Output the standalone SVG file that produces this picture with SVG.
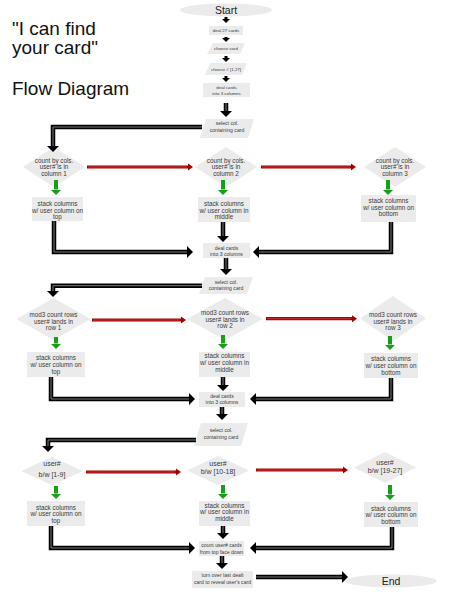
<svg xmlns="http://www.w3.org/2000/svg" width="450" height="600" viewBox="0 0 450 600">
<style>
text{font-family:"Liberation Sans",Arial,sans-serif;fill:#3a3a3a;text-anchor:middle}
.title{font-size:19px;fill:#111;text-anchor:start}
.big{font-size:10.5px;fill:#222}
.xs{font-size:4.4px}
.sm{font-size:5.1px}
.md{font-size:6.3px}
.lg{font-size:7px}
.shape{fill:#ebebeb;stroke:none}
.blk{fill:none;stroke:#000;stroke-width:4.5;marker-end:url(#ah)}
.blkin{fill:none;stroke:#8a8a8a;stroke-width:0.9}
.tiny{fill:none;stroke:#000;stroke-width:3;marker-end:url(#ahs)}
.red{fill:none;stroke:#a50000;stroke-width:3.2;marker-end:url(#ahr)}
.redin{fill:none;stroke:#d04040;stroke-width:0.8}
.grn{fill:none;stroke:#16a016;stroke-width:4;marker-end:url(#ahg)}
</style>
<defs>
<marker id="ah" markerUnits="userSpaceOnUse" markerWidth="8" markerHeight="14" refX="0" refY="7" orient="auto"><path d="M0,1 L6,7 L0,13 z" fill="#000"/></marker>
<marker id="ahs" markerUnits="userSpaceOnUse" markerWidth="6" markerHeight="10" refX="0" refY="5" orient="auto"><path d="M0,1 L4,5 L0,9 z" fill="#000"/></marker>
<marker id="ahr" markerUnits="userSpaceOnUse" markerWidth="7" markerHeight="10" refX="0" refY="5" orient="auto"><path d="M0,1.5 L5,5 L0,8.5 z" fill="#a50000"/></marker>
<marker id="ahg" markerUnits="userSpaceOnUse" markerWidth="7" markerHeight="13" refX="0" refY="6.5" orient="auto"><path d="M0,1 L5.5,6.5 L0,12 z" fill="#16a016"/></marker>
</defs>
<rect width="450" height="600" fill="#fff"/>

<g id="title">
<text class="title" x="12" y="35">"I can find</text>
<text class="title" x="12" y="54">your card"</text>
<text class="title" x="12" y="95">Flow Diagram</text>
</g>

<g id="start"><ellipse class="shape" cx="226" cy="10" rx="46" ry="6.5"/><text class="big" x="226" y="14">Start</text></g>
<g id="deal27"><rect class="shape" x="209" y="26" width="34" height="9"/><text class="xs" x="226" y="32">deal 27 cards</text></g>
<g id="choosecard"><polygon class="shape" points="213,43 245,43 240,54 207,54"/><text class="xs" x="226" y="50">choose card</text></g>
<g id="choosenum"><polygon class="shape" points="210,63 247,63 242,75 205,75"/><text class="xs" x="226" y="70.5">choose # [1,27]</text></g>
<g id="deal1"><rect class="shape" x="203" y="83" width="47" height="14"/><text class="xs" x="226.5" y="89">deal cards</text><text class="xs" x="226.5" y="94.5">into 3 columns</text></g>
<g id="select1"><polygon class="shape" points="206,119 254,119 248,138 200,138"/><text class="sm" x="227" y="125">select col.</text><text class="sm" x="227" y="132">containing card</text></g>

<g id="d11"><polygon class="shape" points="54,147 85,167 54,187 23,167"/><text class="md" x="54" y="162.7">count by cols.</text><text class="md" x="54" y="169">user# is in</text><text class="md" x="54" y="175.5">column 1</text></g>
<g id="d12"><polygon class="shape" points="226,147 257,167 226,187 195,167"/><text class="md" x="226" y="162.7">count by cols.</text><text class="md" x="226" y="169">user# is in</text><text class="md" x="226" y="175.5">column 2</text></g>
<g id="d13"><polygon class="shape" points="395,147 426,167 395,187 364,167"/><text class="md" x="395" y="162.7">count by cols.</text><text class="md" x="395" y="169">user# is in</text><text class="md" x="395" y="175.5">column 3</text></g>

<g id="s11"><rect class="shape" x="32" y="197" width="51" height="24"/><text class="md" x="57.5" y="206">stack columns</text><text class="md" x="57.5" y="212.7">w/ user column on</text><text class="md" x="57.5" y="219.3">top</text></g>
<g id="s12"><rect class="shape" x="198" y="197" width="52" height="25"/><text class="md" x="224" y="206">stack columns</text><text class="md" x="224" y="212.7">w/ user column in</text><text class="md" x="224" y="219.3">middle</text></g>
<g id="s13"><rect class="shape" x="361" y="195" width="55" height="27"/><text class="md" x="388.5" y="203">stack columns</text><text class="md" x="388.5" y="209.5">w/ user column on</text><text class="md" x="388.5" y="216">bottom</text></g>

<g id="deal2"><rect class="shape" x="203" y="243" width="47" height="15"/><text class="sm" x="226.5" y="249.5">deal cards</text><text class="sm" x="226.5" y="256">into 3 columns</text></g>
<g id="select2"><polygon class="shape" points="205,277 253,277 247,294 199,294"/><text class="sm" x="226" y="283.5">select col.</text><text class="sm" x="226" y="290">containing card</text></g>

<g id="d21"><polygon class="shape" points="53.5,298 90.5,319 53.5,340 16.5,319"/><text class="md" x="53.5" y="317">mod3 count rows</text><text class="md" x="53.5" y="323.5">user# lands in</text><text class="md" x="53.5" y="330">row 1</text></g>
<g id="d22"><polygon class="shape" points="225,298 263,319 225,340 187,319"/><text class="md" x="225" y="315">mod3 count rows</text><text class="md" x="225" y="321.5">user# lands in</text><text class="md" x="225" y="328">row 2</text></g>
<g id="d23"><polygon class="shape" points="393,296 426,318.5 393,341 360,318.5"/><text class="md" x="393" y="317">mod3 count rows</text><text class="md" x="393" y="323.5">user# lands in</text><text class="md" x="393" y="330">row 3</text></g>

<g id="s21"><rect class="shape" x="27" y="352" width="58" height="25"/><text class="md" x="56" y="360">stack columns</text><text class="md" x="56" y="367">w/ user column on</text><text class="md" x="56" y="373.5">top</text></g>
<g id="s22"><rect class="shape" x="199" y="352" width="51" height="25"/><text class="md" x="224.5" y="358">stack columns</text><text class="md" x="224.5" y="365">w/ user column in</text><text class="md" x="224.5" y="371.5">middle</text></g>
<g id="s23"><rect class="shape" x="364" y="353" width="54" height="25"/><text class="md" x="391" y="361">stack columns</text><text class="md" x="391" y="368">w/ user column on</text><text class="md" x="391" y="374.5">bottom</text></g>

<g id="deal3"><rect class="shape" x="199" y="392" width="46" height="15"/><text class="sm" x="222" y="398">deal cards</text><text class="sm" x="222" y="404">into 3 columns</text></g>
<g id="select3"><polygon class="shape" points="201,423 248,423 241,446 194,446"/><text class="sm" x="221" y="432">select col.</text><text class="sm" x="221" y="438.5">containing card</text></g>

<g id="d31"><polygon class="shape" points="52,457 83,471 52,485 21,471"/><text class="lg" x="52" y="466">user#</text><text class="lg" x="52" y="477">b/w [1-9]</text></g>
<g id="d32"><polygon class="shape" points="218,456 249,470.5 218,485 187,470.5"/><text class="lg" x="218" y="466">user#</text><text class="lg" x="218" y="473.5">b/w [10-18]</text></g>
<g id="d33"><polygon class="shape" points="385,452 416,467.5 385,483 354,467.5"/><text class="lg" x="385" y="465">user#</text><text class="lg" x="385" y="472.5">b/w [19-27]</text></g>

<g id="s31"><rect class="shape" x="27" y="501" width="58" height="25"/><text class="md" x="56" y="509.5">stack columns</text><text class="md" x="56" y="516">w/ user column on</text><text class="md" x="56" y="523">top</text></g>
<g id="s32"><rect class="shape" x="199" y="501" width="51" height="25"/><text class="md" x="224.5" y="507.5">stack columns</text><text class="md" x="224.5" y="514">w/ user column in</text><text class="md" x="224.5" y="521">middle</text></g>
<g id="s33"><rect class="shape" x="364" y="502" width="54" height="25"/><text class="md" x="391" y="510.5">stack columns</text><text class="md" x="391" y="517">w/ user column on</text><text class="md" x="391" y="524">bottom</text></g>

<g id="count"><rect class="shape" x="199" y="541" width="45" height="15"/><text class="sm" x="221.5" y="547">count user# cards</text><text class="sm" x="221.5" y="553.5">from top face down</text></g>
<g id="turn"><rect class="shape" x="192" y="571" width="61" height="17"/><text class="sm" x="222.5" y="577">turn over last dealt</text><text class="sm" x="222.5" y="583.5">card to reveal user's card</text></g>
<g id="end"><ellipse class="shape" cx="391" cy="581" rx="46" ry="6.5"/><text class="big" x="391" y="585">End</text></g>

<g id="connectors">
<path class="tiny" d="M226,17 V19"/>
<path class="tiny" d="M226,37 V38"/>
<path class="tiny" d="M226,56 V58"/>
<path class="tiny" d="M226,76 V78"/>
<path class="blk" d="M226,103 V111"/><path class="blkin" d="M226,103 V111"/>

<path class="blk" d="M202,127 H53 V146"/><path class="blkin" d="M202,127 H53 V146"/>
<path class="red" d="M87,167 H188"/><path class="redin" d="M88,167 H187"/>
<path class="red" d="M261,167 H351"/><path class="redin" d="M262,167 H350"/>
<path class="grn" d="M56,180 V189.5"/>
<path class="grn" d="M223,180 V189.5"/>
<path class="grn" d="M388,180 V189.5"/>
<path class="blk" d="M54,221 V252 H187"/><path class="blkin" d="M54,221 V252 H187"/>
<path class="blk" d="M391,222 V252 H259"/><path class="blkin" d="M391,222 V252 H259"/>
<path class="blk" d="M223,222 V236"/><path class="blkin" d="M223,222 V236"/>
<path class="blk" d="M226,258 V269"/><path class="blkin" d="M226,258 V269"/>

<path class="blk" d="M202,285.7 H53 V291"/><path class="blkin" d="M202,285.7 H53 V291"/>
<path class="red" d="M92,320 H181"/><path class="redin" d="M93,320 H180"/>
<path class="red" d="M266,318.7 H352"/><path class="redin" d="M267,318.7 H351"/>
<path class="grn" d="M56,337 V343.5"/>
<path class="grn" d="M223,335 V343.5"/>
<path class="grn" d="M390,336 V344.5"/>
<path class="blk" d="M51,377 V399 H189"/><path class="blkin" d="M51,377 V399 H189"/>
<path class="blk" d="M391,378 V399 H256"/><path class="blkin" d="M391,378 V399 H256"/>
<path class="blk" d="M223,377 V385"/><path class="blkin" d="M223,377 V385"/>
<path class="blk" d="M222,407 V414"/><path class="blkin" d="M222,407 V414"/>

<path class="blk" d="M196,440 H48 V446"/><path class="blkin" d="M196,440 H48 V446"/>
<path class="red" d="M86,472 H176"/><path class="redin" d="M87,472 H175"/>
<path class="red" d="M256,470 H343"/><path class="redin" d="M257,470 H342"/>
<path class="grn" d="M56,486 V493.5"/>
<path class="grn" d="M223,485 V493.5"/>
<path class="grn" d="M390,485 V494.5"/>
<path class="blk" d="M51,526 V548 H189"/><path class="blkin" d="M51,526 V548 H189"/>
<path class="blk" d="M392,527 V548 H256"/><path class="blkin" d="M392,527 V548 H256"/>
<path class="blk" d="M223,526 V533"/><path class="blkin" d="M223,526 V533"/>
<path class="blk" d="M222,556 V563"/><path class="blkin" d="M222,556 V563"/>
<path class="blk" d="M256,577 H342"/><path class="blkin" d="M256,577 H342"/>
</g>
</svg>
